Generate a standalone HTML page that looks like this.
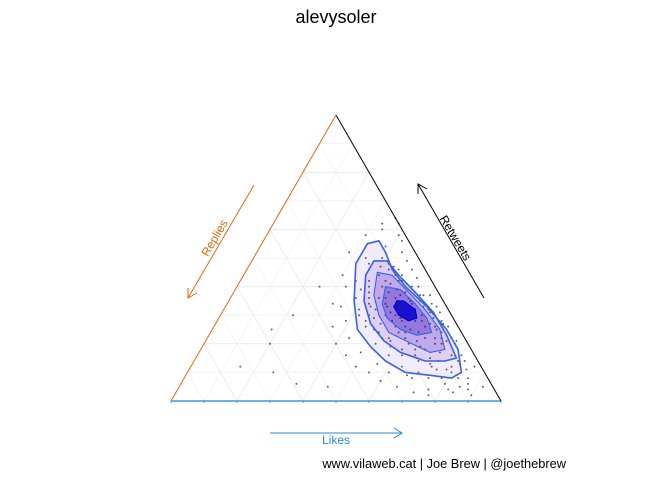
<!DOCTYPE html>
<html><head><meta charset="utf-8"><style>
body{margin:0;background:#fff}
svg{display:block;font-family:"Liberation Sans",sans-serif}
</style></head><body>
<svg id="chart" width="672" height="480" viewBox="0 0 672 480" xmlns="http://www.w3.org/2000/svg">
<rect width="672" height="480" fill="#fff"/>
<text x="336" y="23" text-anchor="middle" font-size="18" fill="#000">alevysoler</text>
<g id="grid"></g>
<g id="fills"></g>
<g id="points"></g>
<g id="lines"></g>
<g id="axes"></g>
<line x1="254" y1="185" x2="188" y2="298" stroke="#e06a10" stroke-width="1"/>
<polyline points="188,288 188,298 197,293" fill="none" stroke="#e06a10"/>
<text transform="translate(218,240) rotate(-59.5)" text-anchor="middle" font-size="12" fill="#e06a10">Replies</text>
<line x1="484" y1="298" x2="418" y2="184" stroke="#000"/>
<polyline points="418,194 418,184 427,189" fill="none" stroke="#000"/>
<text transform="translate(452,240) rotate(59.5)" text-anchor="middle" font-size="12" fill="#000">Retweets</text>
<line x1="270" y1="433" x2="402" y2="433" stroke="#2a8ad0"/>
<polyline points="394,428 402,433 394,438" fill="none" stroke="#2a8ad0"/>
<text x="336" y="444" text-anchor="middle" font-size="12" fill="#2a8ad0">Likes</text>
<text x="566" y="468" text-anchor="end" font-size="12.8" fill="#000">www.vilaweb.cat | Joe Brew | @joethebrew</text>
</svg>
<script>
// data in percent: [Likes, Retweets]
const contourOuter=[[32,55],[35,56],[39,52],[44,46],[51,40],[61,33],[71,25],[78,18],[83,10],[81,8],[74,9],[66,10],[58,14],[51,19],[44,25],[38,35],[32,48]];
const contour2=[[37,49],[41,49],[47,44],[55,38],[64,31],[72,23],[79,15],[76,14],[70,14],[61,17],[54,21],[47,27],[41,35],[37,44]];
const contour3=[[40,45],[45,44],[53,38],[61,32],[69,25],[74,18],[70,17],[63,20],[54,24],[48,30],[43,37]];
const contour4=[[45,40],[50,39],[57,34],[63,29],[67,24],[63,23],[57,25],[51,29],[47,34]];
const contourInner=[[51,35],[53,35],[58,32],[60,29],[58,28],[54,30],[51,33]];
const pointsData=[[30,58],[33,62],[28,52],[25,40],[22,30],[36,64],[40,58],[44,52],[50,46],[55,40],[62,34],[68,28],[72,24],[78,18],[82,14],[86,8],[88,4],[84,3],[80,6],[76,4],[72,3],[66,5],[60,7],[55,10],[50,12],[45,16],[40,20],[36,26],[32,34],[30,44],[34,50],[38,54],[42,48],[46,44],[52,38],[58,32],[64,26],[70,20],[74,14],[70,10],[64,12],[58,16],[52,20],[46,26],[42,30],[38,36],[35,42],[40,40],[45,36],[50,30],[55,26],[60,22],[65,18],[68,14],[62,20],[57,24],[53,28],[48,34],[44,40],[48,42],[52,34],[56,30],[60,28],[63,24],[66,22],[58,26],[54,32],[50,36],[47,38],[55,35],[59,30],[62,28],[51,31],[53,30],[56,28],[57,29],[54,33],[52,33],[49,33],[45,30],[43,34],[41,38],[37,46],[20,20],[15,12],[26,10],[35,6],[18,25],[45,5],[90,2],[92,5],[86,12],[80,16],[76,20],[80,10],[83,8],[78,8],[74,8],[69,8],[73,12],[34,60],[38,62],[42,56],[47,49],[53,43],[60,37],[66,31],[71,26],[76,21],[81,13],[84,11],[87,6],[82,4],[77,2],[67,9],[61,10],[56,13],[49,17],[43,22],[39,28],[35,33],[33,40],[36,48],[41,44],[46,41],[51,37],[56,34],[61,30],[65,27],[69,22],[73,17],[71,15],[66,16],[61,18],[56,21],[51,24],[47,29],[44,33],[49,39],[54,36],[58,35],[63,31],[67,26],[70,24],[72,20],[68,18],[64,21],[59,24],[55,22],[50,27],[46,32],[42,36],[39,42],[43,46],[48,44],[53,40],[57,37],[62,32],[74,22],[77,16],[75,11],[79,12],[85,5],[39,50],[44,47],[49,42],[58,37],[64,33],[69,27],[73,21],[77,19],[80,14],[82,9],[78,11],[72,13],[67,15],[62,16],[57,19],[53,22],[49,25],[45,28],[41,32],[38,39],[40,47],[46,46],[51,41],[55,38],[60,33],[65,29],[68,25],[71,22],[66,19],[60,25],[55,29],[51,35],[47,36],[44,42]];
const ticks=[0,10,20,30,40,50,60,70,80,90,100];

const X0=171,X1=501,YB=401,YT=115,W=X1-X0,H=YB-YT;
function px(L,R){return X0+W*(L/100+R/200);}
function py(L,R){return YB-H*R/100;}
const NS='http://www.w3.org/2000/svg';
function mk(tag,attrs,parent){const e=document.createElementNS(NS,tag);for(const k in attrs)e.setAttribute(k,attrs[k]);document.getElementById(parent).appendChild(e);return e;}
ticks.slice(1,-1).forEach(t=>{
  const c=t%20===0?'#ececec':'#f4f4f4';
  let g=mk('line',{x1:px(0,t),y1:py(0,t),x2:px(100-t,t),y2:py(100-t,t),stroke:c},'grid');
  
  
  g=mk('line',{x1:px(t,0),y1:py(t,0),x2:px(t,100-t),y2:py(t,100-t),stroke:c},'grid');
  
  
  g=mk('line',{x1:px(100-t,0),y1:py(100-t,0),x2:px(0,100-t),y2:py(0,100-t),stroke:c},'grid');
  
  
});
function poly(arr){return arr.map(p=>px(p[0],p[1]).toFixed(1)+','+py(p[0],p[1]).toFixed(1)).join(' ');}
const levels=[[contourOuter,'#f1ecfa'],[contour2,'#ddd0f3'],[contour3,'#bfa8ec'],[contour4,'#9478e0'],[contourInner,'#1a10d8']];
levels.forEach((lv,i)=>{
  const f=mk('polygon',{points:poly(lv[0]),fill:lv[1],stroke:'none'},'fills');
  
  
});
pointsData.forEach((p,i)=>{
  const c=mk('circle',{cx:px(p[0],p[1]),cy:py(p[0],p[1]),r:1,fill:'#222','fill-opacity':0.7},'points');
  
  
});
levels.forEach((lv,i)=>{
  const l=mk('polygon',{points:poly(lv[0]),fill:'none',stroke:i===4?'#0000cc':'#3a62e0','stroke-width':i===0||i===1?1.6:1.1,'stroke-linejoin':'round'},'lines');
  
  
});
let a=mk('line',{x1:px(0,0),y1:py(0,0),x2:px(100,0),y2:py(100,0),stroke:'#3a9ad9','stroke-width':1.5},'axes');


a=mk('line',{x1:px(100,0),y1:py(100,0),x2:px(0,100),y2:py(0,100),stroke:'#000'},'axes');


a=mk('line',{x1:px(0,100),y1:py(0,100),x2:px(0,0),y2:py(0,0),stroke:'#e06a10'},'axes');


ticks.forEach(t=>{
  let k=mk('line',{x1:px(t,0),y1:py(t,0),x2:px(t,0),y2:py(t,0)+2,stroke:'#3a9ad9'},'axes');
  
  
});
</script>
</body></html>
